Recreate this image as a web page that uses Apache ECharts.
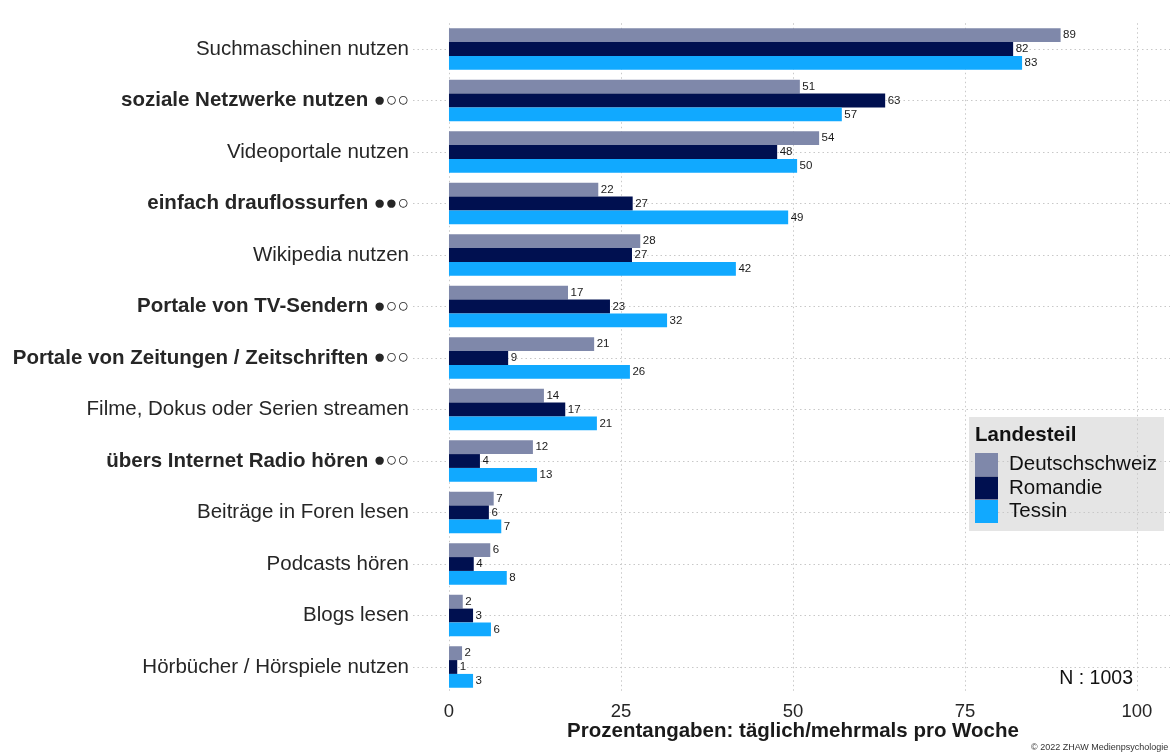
<!DOCTYPE html>
<html>
<head>
<meta charset="utf-8">
<script src="https://cdn.jsdelivr.net/npm/echarts@6/dist/echarts.min.js"></script>
<style>
html,body{margin:0;padding:0;background:#fff;}
#chart{width:1170px;height:754px;}
</style>
</head>
<body>
<div id="chart"></div>
<script>
const categories = [
  "Suchmaschinen nutzen",
  "soziale Netzwerke nutzen",
  "Videoportale nutzen",
  "einfach drauflossurfen",
  "Wikipedia nutzen",
  "Portale von TV-Sendern",
  "Portale von Zeitungen / Zeitschriften",
  "Filme, Dokus oder Serien streamen",
  "übers Internet Radio hören",
  "Beiträge in Foren lesen",
  "Podcasts hören",
  "Blogs lesen",
  "Hörbücher / Hörspiele nutzen"
];
const marks = ["", "●○○", "", "●●○", "", "●○○", "●○○", "", "●○○", "", "", "", ""];
const seriesNames = ["Deutschschweiz", "Romandie", "Tessin"];
const colors = ["#7f88aa", "#001050", "#11a9ff"];
const deutschschweiz = [88.9, 51.0, 53.8, 21.7, 27.8, 17.3, 21.1, 13.8, 12.2, 6.5, 6.0, 2.0, 1.9];
const romandie      = [82.0, 63.4, 47.7, 26.7, 26.6, 23.4, 8.6, 16.9, 4.5, 5.8, 3.6, 3.5, 1.2];
const tessin        = [83.3, 57.1, 50.6, 49.3, 41.7, 31.7, 26.3, 21.5, 12.8, 7.6, 8.4, 6.1, 3.5];
const labelsDeutschschweiz = [89, 51, 54, 22, 28, 17, 21, 14, 12, 7, 6, 2, 2];
const labelsRomandie      = [82, 63, 48, 27, 27, 23, 9, 17, 4, 6, 4, 3, 1];
const labelsTessin        = [83, 57, 50, 49, 42, 32, 26, 21, 13, 7, 8, 6, 3];
const xTicks = [0, 25, 50, 75, 100];

const FONT = "'Liberation Sans', Arial, Helvetica, sans-serif";
const values = [deutschschweiz, romandie, tessin];
const labels = [labelsDeutschschweiz, labelsRomandie, labelsTessin];

const chart = echarts.init(document.getElementById('chart'), null, {renderer: 'canvas'});

const gridLine = {show: true, lineStyle: {color: '#c8c8c8', width: 1, type: [1.5, 3]}};

const option = {
  animation: false,
  textStyle: {fontFamily: FONT},
  grid: {left: 413, right: 0, top: 23.25, bottom: 61.25, containLabel: false},
  xAxis: {
    type: 'value',
    min: -5.23,
    max: 104.8,
    axisLine: {show: false},
    axisTick: {show: false, customValues: xTicks},
    axisLabel: {customValues: xTicks, fontSize: 18.5, color: '#262626', margin: 10, fontFamily: FONT},
    splitLine: gridLine
  },
  yAxis: {
    type: 'category',
    data: categories,
    inverse: true,
    axisLine: {show: false, onZero: false},
    axisTick: {show: false, alignWithLabel: true},
    splitLine: Object.assign({alignWithLabel: true}, gridLine),
    axisLabel: {
      margin: 4,
      fontFamily: FONT,
      formatter: function (value, index) {
        if (marks[index]) return '{b|' + value + '}{m| ' + marks[index] + '}';
        return '{n|' + value + '}';
      },
      rich: {
        n: {fontSize: 20.5, color: '#262626', fontFamily: FONT},
        b: {fontSize: 20.5, color: '#262626', fontWeight: 'bold', fontFamily: FONT},
        m: {fontSize: 19.5, color: '#262626', fontFamily: FONT}
      }
    }
  },
  legend: {
    orient: 'vertical',
    left: 975,
    top: 453,
    padding: 0,
    itemGap: 0.5,
    itemWidth: 23,
    itemHeight: 23,
    icon: 'rect',
    selectedMode: false,
    data: seriesNames,
    textStyle: {fontSize: 20.5, color: '#111', fontFamily: FONT, padding: [0, 0, 0, 6]}
  },
  series: seriesNames.map(function (name, i) {
    return {
      name: name,
      type: 'bar',
      data: values[i],
      barGap: 0,
      barCategoryGap: '19.4%',
      itemStyle: {color: colors[i]},
      label: {
        show: true,
        position: 'right',
        distance: 2.5,
        fontSize: 11.5,
        color: '#1a1a1a',
        fontFamily: FONT,
        formatter: function (p) { return String(labels[i][p.dataIndex]); }
      }
    };
  }),
  graphic: [
    {type: 'rect', z: -1, shape: {x: 969, y: 417, width: 195, height: 114}, style: {fill: '#e5e5e5'}},
    {type: 'text', x: 975, y: 435, style: {text: 'Landesteil', font: 'bold 20.5px ' + FONT, fill: '#111', textVerticalAlign: 'middle'}},
    {type: 'text', x: 1133, y: 679, style: {text: 'N : 1003', font: '19.5px ' + FONT, fill: '#111', textAlign: 'right', textVerticalAlign: 'middle'}},
    {type: 'text', x: 793, y: 731, style: {text: 'Prozentangaben: täglich/mehrmals pro Woche', font: 'bold 20.5px ' + FONT, fill: '#1a1a1a', textAlign: 'center', textVerticalAlign: 'middle'}},
    {type: 'text', x: 1031, y: 748, style: {text: '© 2022 ZHAW Medienpsychologie', font: '9px ' + FONT, fill: '#333', textAlign: 'left', textVerticalAlign: 'middle'}}
  ]
};
chart.setOption(option);
</script>
</body>
</html>
